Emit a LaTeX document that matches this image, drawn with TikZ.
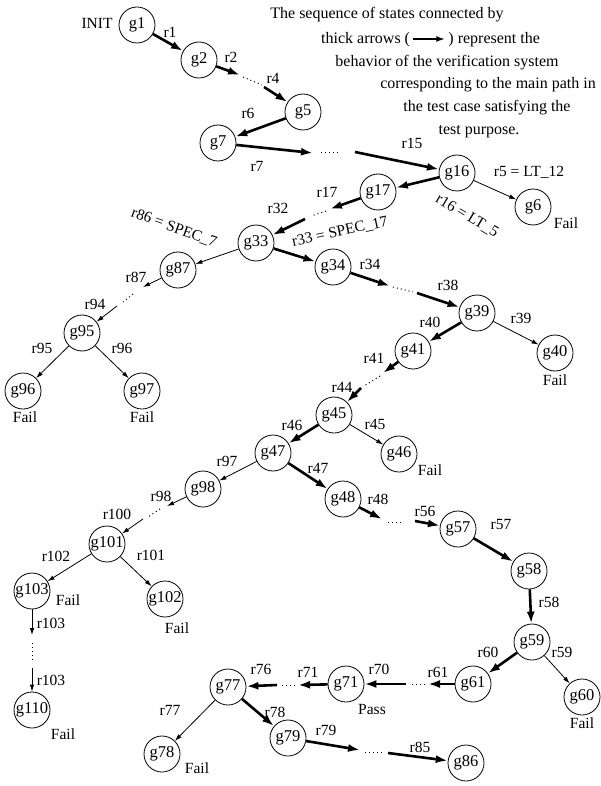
\documentclass[tikz,border=0pt]{standalone}
\usepackage{fontspec}
\setmainfont{Liberation Serif}
\usetikzlibrary{arrows.meta,calc}
\begin{document}
\begin{tikzpicture}[x=1pt,y=-1pt,
  st/.style={circle,draw,line width=0.8pt,minimum size=36pt,inner sep=0pt,font=\fontsize{16.5}{16.5}\selectfont},
  lbl/.style={inner sep=0pt,font=\fontsize{15.5}{15.5}\selectfont},
  hdr/.style={inner sep=0pt,font=\fontsize{16}{16}\selectfont},
  thk/.style={line width=2.6pt,-{Latex[length=12pt,width=8pt]}},
  thn/.style={line width=0.8pt,-{Latex[length=7pt,width=4.5pt]}},
  dotseg/.style={line width=1pt,dash pattern=on 1pt off 3pt},
]
\useasboundingbox (0,0) rectangle (601,786);
% ---------- header text ----------
\node[hdr,anchor=base] (h1) at (387,19) {The sequence of states connected by};
\node[hdr,anchor=base west] (h2a) at (321,44) {thick arrows (};
\node[hdr,anchor=base west] (h2b) at ($(h2a.base east)+(38,0)$) {) represent the};
\coordinate (h2s) at ($(h2a.base east)+(3,-5)$);
\coordinate (h2e) at ($(h2b.base west)+(-3,-5)$);
\draw[line width=1.8pt,-{Latex[length=9pt,width=6pt]}] (h2s) -- (h2e);
\node[hdr,anchor=base] (h3) at (447,67) {behavior of the verification system};
\node[hdr,anchor=base] (h4) at (488,89) {corresponding to the main path in};
\node[hdr,anchor=base] (h5) at (487,112) {the test case satisfying the};
\node[hdr,anchor=base] (h6) at (479,135) {test purpose.};
% ---------- states ----------
\node[st] (g1) at (137,25) {g1};
\node[st] (g2) at (199,60) {g2};
\node[st] (g5) at (303,112) {g5};
\node[st] (g7) at (218,143) {g7};
\node[st] (g16) at (457,173) {g16};
\node[st] (g6) at (533,207) {g6};
\node[st] (g17) at (378,192) {g17};
\node[st] (g33) at (256,243) {g33};
\node[st] (g34) at (333,267) {g34};
\node[st] (g87) at (178,270) {g87};
\node[st] (g95) at (82,333) {g95};
\node[st] (g96) at (23,391) {g96};
\node[st] (g97) at (142,391) {g97};
\node[st] (g39) at (477,313) {g39};
\node[st] (g40) at (555,353) {g40};
\node[st] (g41) at (413,351) {g41};
\node[st] (g45) at (334,415) {g45};
\node[st] (g46) at (399,454) {g46};
\node[st] (g47) at (273,453) {g47};
\node[st] (g48) at (343,499) {g48};
\node[st] (g57) at (458,529) {g57};
\node[st] (g58) at (529,571) {g58};
\node[st] (g59) at (532,642) {g59};
\node[st] (g60) at (582,697) {g60};
\node[st] (g61) at (473,684) {g61};
\node[st] (g71) at (346,684) {g71};
\node[st] (g77) at (228,687) {g77};
\node[st] (g78) at (162,754) {g78};
\node[st] (g79) at (288,738) {g79};
\node[st] (g86) at (466,763) {g86};
\node[st] (g98) at (203,489) {g98};
\node[st] (g101) at (107,544) {g101};
\node[st] (g102) at (165,599) {g102};
\node[st] (g103) at (32,591) {g103};
\node[st] (g110) at (32,710) {g110};
% ---------- intermediate points ----------
\coordinate (a2) at (240,75);  \coordinate (d2s) at (243,77);  \coordinate (d2e) at (262,85);  \coordinate (b2) at (264,87);
\coordinate (a7) at (313,153); \coordinate (d7s) at (321,153); \coordinate (d7e) at (340,153); \coordinate (b7) at (355,152);
\coordinate (a17) at (330,209); \coordinate (d17s) at (326,211); \coordinate (d17e) at (311,216); \coordinate (b17) at (305,219);
\coordinate (a34) at (390,286); \coordinate (d34s) at (393,287); \coordinate (d34e) at (413,292); \coordinate (b34) at (417,293);
\coordinate (a41) at (383,373); \coordinate (d41s) at (380,376); \coordinate (d41e) at (364,386); \coordinate (b41) at (361,388);
\coordinate (a48) at (382,519); \coordinate (d48s) at (388,522); \coordinate (d48e) at (402,522); \coordinate (b48) at (415,521);
\coordinate (a61) at (428,684); \coordinate (d61s) at (425,684); \coordinate (d61e) at (410,684); \coordinate (b61) at (406,684);
\coordinate (a71) at (298,685); \coordinate (d71s) at (295,685); \coordinate (d71e) at (280,685); \coordinate (b71) at (277,685);
\coordinate (a79) at (360,750); \coordinate (d79s) at (365,752); \coordinate (d79e) at (382,752); \coordinate (b79) at (388,753);
\coordinate (a87) at (143,287); \coordinate (d87s) at (133,294); \coordinate (d87e) at (123,302); \coordinate (b87) at (117,306);
\coordinate (a98) at (167,506); \coordinate (d98s) at (160,509); \coordinate (d98e) at (148,517); \coordinate (b98) at (143,519);
\coordinate (a103) at (32,635); \coordinate (d103s) at (32,643); \coordinate (d103e) at (32,661); \coordinate (b103) at (32,668);
% ---------- thick main path ----------
\draw[thk] (g1) -- (g2);
\draw[thk] (g2) -- (a2); \draw[dotseg] (d2s) -- (d2e); \draw[thk] (b2) -- (g5);
\draw[thk] (g5) -- (g7);
\draw[thk] (g7) -- (a7); \draw[dotseg] (d7s) -- (d7e); \draw[thk] (b7) -- (g16);
\draw[thk] (g16) -- (g17);
\draw[thk] (g17) -- (a17); \draw[dotseg] (d17s) -- (d17e); \draw[thk] (b17) -- (g33);
\draw[thk] (g33) -- (g34);
\draw[thk] (g34) -- (a34); \draw[dotseg] (d34s) -- (d34e); \draw[thk] (b34) -- (g39);
\draw[thk] (g39) -- (g41);
\draw[thk] (g41) -- (a41); \draw[dotseg] (d41s) -- (d41e); \draw[thk] (b41) -- (g45);
\draw[thk] (g45) -- (g47);
\draw[thk] (g47) -- (g48);
\draw[thk] (g48) -- (a48); \draw[dotseg] (d48s) -- (d48e); \draw[thk] (b48) -- (g57);
\draw[thk] (g57) -- (g58);
\draw[thk] (g58) -- (g59);
\draw[thk] (g59) -- (g61);
\draw[thk] (g61) -- (a61); \draw[dotseg] (d61s) -- (d61e); \draw[thk] (b61) -- (g71);
\draw[thk] (g71) -- (a71); \draw[dotseg] (d71s) -- (d71e); \draw[thk] (b71) -- (g77);
\draw[thk] (g77) -- (g79);
\draw[thk] (g79) -- (a79); \draw[dotseg] (d79s) -- (d79e); \draw[thk] (b79) -- (g86);
% ---------- thin branches ----------
\draw[thn] (g16) -- (g6);
\draw[thn] (g33) -- (g87);
\draw[thn] (g87) -- (a87); \draw[dotseg] (d87s) -- (d87e); \draw[thn] (b87) -- (g95);
\draw[thn] (g95) -- (g96);
\draw[thn] (g95) -- (g97);
\draw[thn] (g39) -- (g40);
\draw[thn] (g45) -- (g46);
\draw[thn] (g47) -- (g98);
\draw[thn] (g98) -- (a98); \draw[dotseg] (d98s) -- (d98e); \draw[thn] (b98) -- (g101);
\draw[thn] (g101) -- (g102);
\draw[thn] (g101) -- (g103);
\draw[thn] (g103) -- (a103); \draw[dotseg] (d103s) -- (d103e); \draw[thn] (b103) -- (g110);
\draw[thn] (g59) -- (g60);
\draw[thn] (g77) -- (g78);
% ---------- labels ----------
\node[lbl] (linit) at (97,23) {INIT};
\node[lbl] (l1) at (170,32) {r1};
\node[lbl] (l2) at (231,57) {r2};
\node[lbl] (l4) at (273,78) {r4};
\node[lbl] (l6) at (248,113) {r6};
\node[lbl] (l7) at (257,166) {r7};
\node[lbl] (l15) at (412,143) {r15};
\node[lbl] (l5) at (529,172) {r5 = LT\_12};
\node[lbl,rotate=-31] (l16) at (467,216) {r16 = LT\_5};
\node[lbl] (f6) at (566,223) {Fail};
\node[lbl] (l17) at (327,192) {r17};
\node[lbl] (l32) at (278,208) {r32};
\node[lbl,rotate=-20] (l86) at (174,228) {r86 = SPEC\_7};
\node[lbl,rotate=12] (l33) at (340,232) {r33 = SPEC\_17};
\node[lbl] (l87) at (136,277) {r87};
\node[lbl] (l94) at (95,304) {r94};
\node[lbl] (l95) at (42,348) {r95};
\node[lbl] (l96) at (122,348) {r96};
\node[lbl] (f96) at (25,417) {Fail};
\node[lbl] (f97) at (142,417) {Fail};
\node[lbl] (l34) at (370,264) {r34};
\node[lbl] (l38) at (448,285) {r38};
\node[lbl] (l39) at (521,318) {r39};
\node[lbl] (l40) at (430,322) {r40};
\node[lbl] (f40) at (555,380) {Fail};
\node[lbl] (l41) at (374,358) {r41};
\node[lbl] (l44) at (342,387) {r44};
\node[lbl] (l45) at (375,424) {r45};
\node[lbl] (l46) at (292,425) {r46};
\node[lbl] (f46) at (430,470) {Fail};
\node[lbl] (l47) at (318,468) {r47};
\node[lbl] (l48) at (378,499) {r48};
\node[lbl] (l56) at (425,511) {r56};
\node[lbl] (l57) at (501,524) {r57};
\node[lbl] (l58) at (549,602) {r58};
\node[lbl] (l97) at (227,461) {r97};
\node[lbl] (l98) at (161,496) {r98};
\node[lbl] (l100) at (117,514) {r100};
\node[lbl] (l101) at (151,555) {r101};
\node[lbl] (l102) at (56,556) {r102};
\node[lbl] (f103) at (68,600) {Fail};
\node[lbl] (f102) at (177,628) {Fail};
\node[lbl] (l103a) at (51,623) {r103};
\node[lbl] (l103b) at (51,680) {r103};
\node[lbl] (f110) at (63,734) {Fail};
\node[lbl] (l59) at (562,652) {r59};
\node[lbl] (l60) at (488,652) {r60};
\node[lbl] (f60) at (582,723) {Fail};
\node[lbl] (l61) at (438,672) {r61};
\node[lbl] (l70) at (379,669) {r70};
\node[lbl] (p71) at (372,709) {Pass};
\node[lbl] (l71) at (308,672) {r71};
\node[lbl] (l76) at (261,669) {r76};
\node[lbl] (l77) at (170,710) {r77};
\node[lbl] (l78) at (275,712) {r78};
\node[lbl] (f78) at (197,768) {Fail};
\node[lbl] (l79) at (326,730) {r79};
\node[lbl] (l85) at (420,747) {r85};
\end{tikzpicture}
\end{document}
